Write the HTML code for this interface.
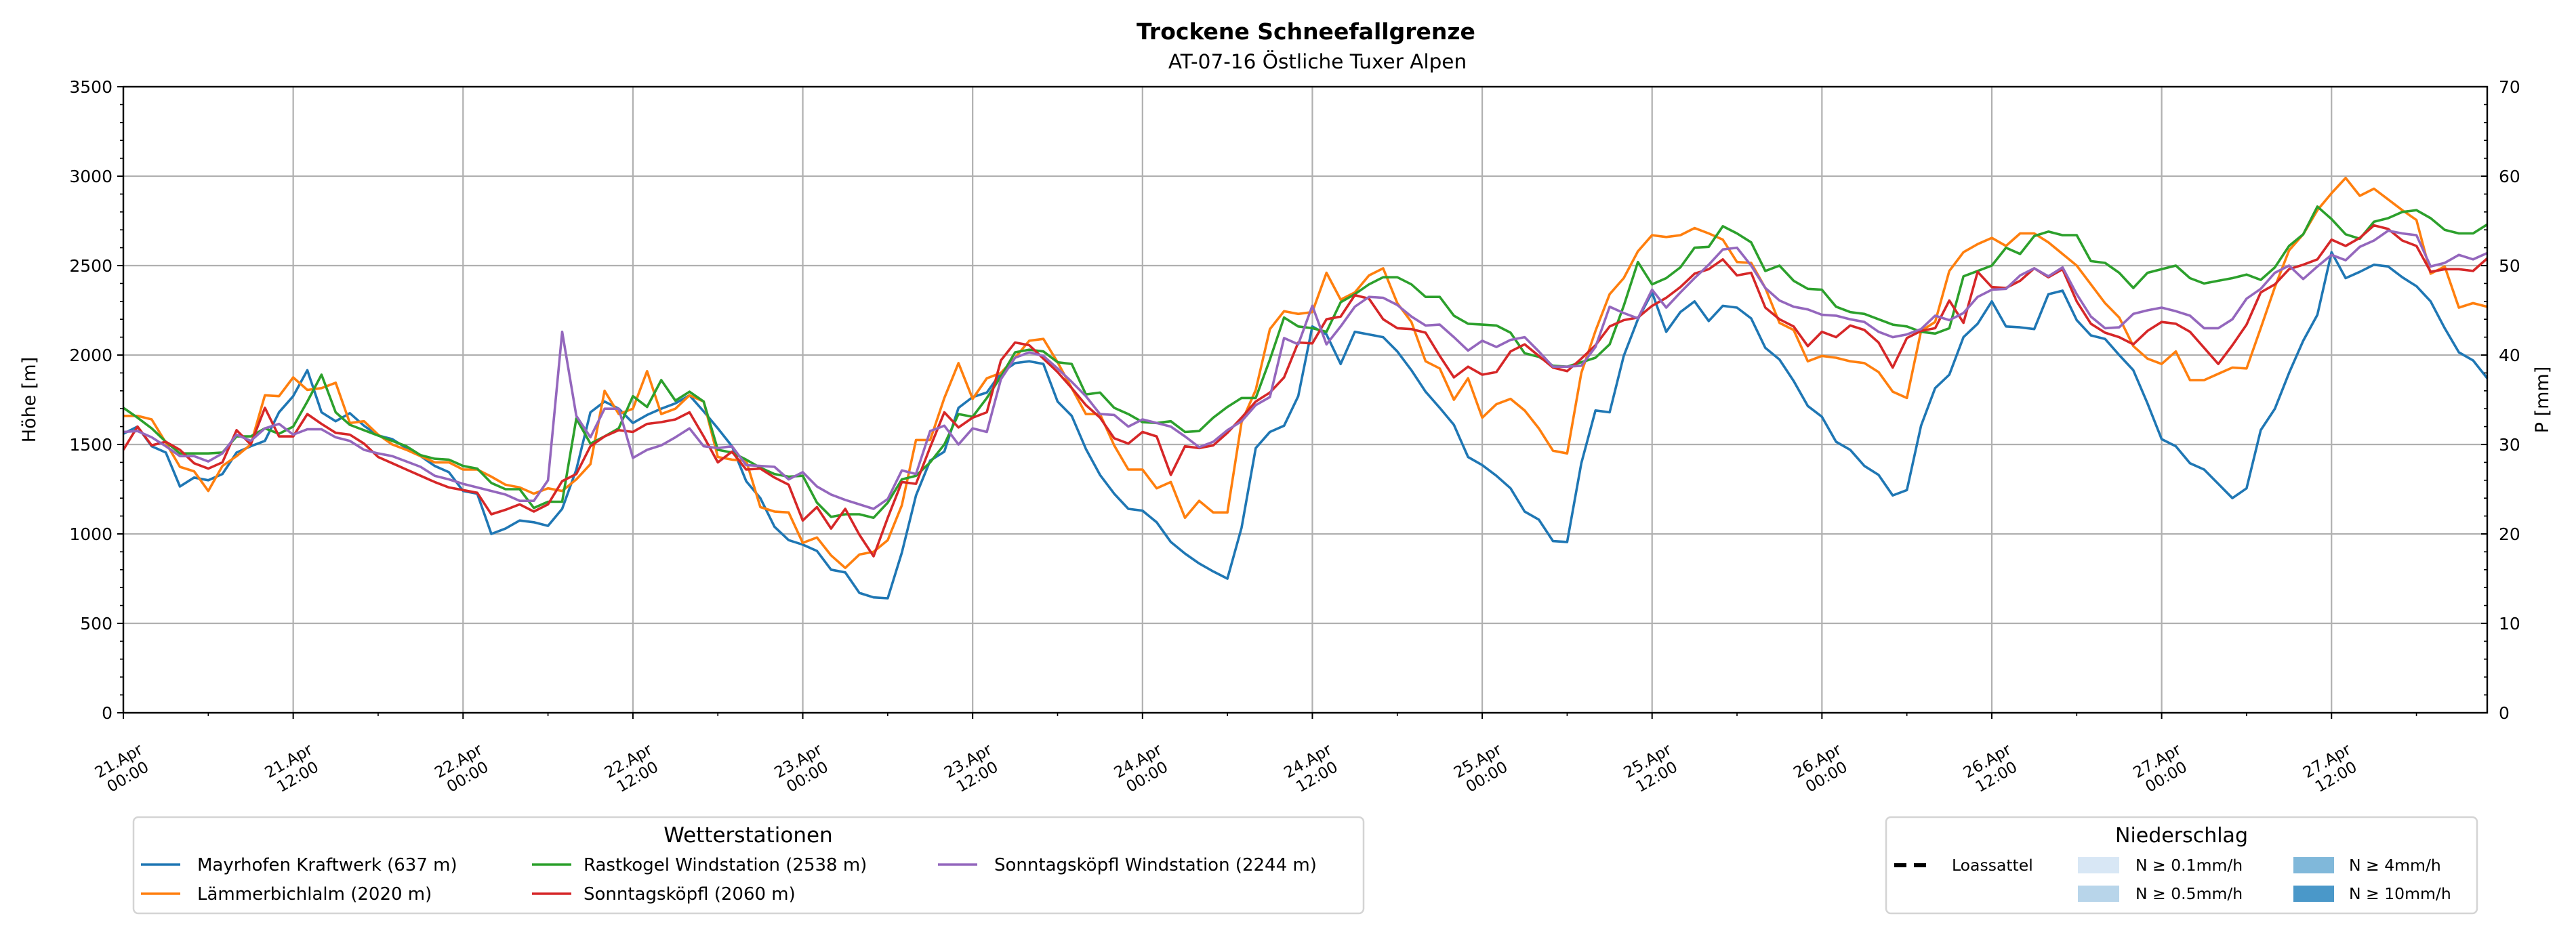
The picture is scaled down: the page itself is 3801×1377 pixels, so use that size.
<!DOCTYPE html>
<html><head><meta charset="utf-8"><style>
html,body{margin:0;padding:0;background:#fff;}
svg{display:block;font-family:"DejaVu Sans","Liberation Sans",sans-serif;}
</style></head><body>
<svg id="chart" width="3801" height="1377" viewBox="0 0 3801 1377" xmlns="http://www.w3.org/2000/svg">
<rect width="3801" height="1377" fill="#fff"/>
<text x="1927" y="58" text-anchor="middle" font-size="33" font-weight="bold">Trockene Schneefallgrenze</text>
<text x="1944" y="101" text-anchor="middle" font-size="29.5">AT-07-16 Östliche Tuxer Alpen</text>
<g id="grid"></g>
<g id="series"></g>
<g id="axes"></g>
<text transform="translate(52,590) rotate(-90)" text-anchor="middle" font-size="27">Höhe [m]</text>
<text transform="translate(3760,590) rotate(-90)" text-anchor="middle" font-size="27">P [mm]</text>

<g>
<rect x="197" y="1206" width="1815" height="142" rx="7" fill="#fff" stroke="#d4d4d4" stroke-width="2.5"/>
<text x="1104" y="1243" text-anchor="middle" font-size="31">Wetterstationen</text>
<g><line x1="208" y1="1276" x2="266" y2="1276" stroke="#1f77b4" stroke-width="3.6"/><text x="291" y="1285" font-size="26">Mayrhofen Kraftwerk (637 m)</text></g>
<g><line x1="208" y1="1319" x2="266" y2="1319" stroke="#ff7f0e" stroke-width="3.6"/><text x="291" y="1328" font-size="26">Lämmerbichlalm (2020 m)</text></g>
<g><line x1="785" y1="1276" x2="843" y2="1276" stroke="#2ca02c" stroke-width="3.6"/><text x="861" y="1285" font-size="26">Rastkogel Windstation (2538 m)</text></g>
<g><line x1="785" y1="1319" x2="843" y2="1319" stroke="#d62728" stroke-width="3.6"/><text x="861" y="1328" font-size="26">Sonntagsköpfl (2060 m)</text></g>
<g><line x1="1384" y1="1276" x2="1442" y2="1276" stroke="#9467bd" stroke-width="3.6"/><text x="1467" y="1285" font-size="26">Sonntagsköpfl Windstation (2244 m)</text></g>
</g>

<g>
<rect x="2783" y="1206" width="872" height="142" rx="7" fill="#fff" stroke="#d4d4d4" stroke-width="2.5"/>
<text x="3219" y="1243" text-anchor="middle" font-size="30">Niederschlag</text>
<g><line x1="2795" y1="1277" x2="2842" y2="1277" stroke="#000" stroke-width="6" stroke-dasharray="18,11"/><text x="2880" y="1285" font-size="23.5">Loassattel</text></g>
<g><rect x="3066" y="1265" width="61" height="24" fill="#d8e7f5"/><text x="3151" y="1285" font-size="23.5">N ≥ 0.1mm/h</text></g>
<g><rect x="3066" y="1307" width="61" height="24" fill="#b8d5ea"/><text x="3151" y="1327" font-size="23.5">N ≥ 0.5mm/h</text></g>
<g><rect x="3384" y="1265" width="60" height="24" fill="#80b8da"/><text x="3466" y="1285" font-size="23.5">N ≥ 4mm/h</text></g>
<g><rect x="3384" y="1307" width="60" height="24" fill="#4a98c9"/><text x="3466" y="1327" font-size="23.5">N ≥ 10mm/h</text></g>
</g>
</svg>
<script>
const xTickLabels = ["21.Apr|00:00","21.Apr|12:00","22.Apr|00:00","22.Apr|12:00","23.Apr|00:00","23.Apr|12:00","24.Apr|00:00","24.Apr|12:00","25.Apr|00:00","25.Apr|12:00","26.Apr|00:00","26.Apr|12:00","27.Apr|00:00","27.Apr|12:00"];
const yTicks = [0,500,1000,1500,2000,2500,3000,3500];
const y2Ticks = [0,10,20,30,40,50,60,70];
const mayrhofen = [1560,1600,1490,1455,1265,1315,1300,1335,1455,1490,1520,1680,1770,1915,1680,1630,1675,1605,1550,1530,1480,1435,1380,1345,1240,1225,1000,1030,1075,1065,1045,1140,1360,1680,1740,1700,1620,1665,1700,1730,1775,1685,1590,
1490,1295,1200,1040,965,940,905,800,785,670,645,640,895,1215,1410,1460,1705,1765,1790,1900,1955,1965,1950,1740,1660,1475,1330,1225,1140,1130,1065,955,890,835,790,750,1035,1480,1570,1605,1770,
2160,2115,1950,2130,2115,2100,2020,1915,1795,1705,1610,1430,1385,1325,1255,1125,1080,960,955,1395,1690,1680,1995,2200,2350,2130,2240,2300,2190,2275,2265,2205,2040,1975,1855,1715,1655,1515,1470,1380,1330,1215,
1245,1605,1815,1890,2100,2175,2300,2160,2155,2145,2340,2360,2195,2110,2090,2000,1915,1730,1530,1490,1395,1360,1280,1200,1255,1580,1700,1900,2080,2225,2575,2430,2465,2505,2495,2435,2385,2300,2150,2015,1970,1870];
const laemmerbichlalm = [1660,1660,1640,1510,1375,1350,1240,1380,1435,1500,1775,1770,1875,1805,1815,1845,1620,1630,1555,1500,1470,1435,1400,1400,1360,1360,1320,1275,1260,1225,1255,1240,1305,1390,1800,1670,1700,1910,1670,1700,1775,1740,1430,
1415,1410,1150,1125,1120,950,980,880,810,885,900,965,1160,1525,1525,1760,1955,1755,1870,1900,1985,2080,2090,1960,1815,1670,1670,1495,1360,1360,1255,1290,1090,1185,1120,1120,1625,1805,2145,2245,2230,
2240,2460,2310,2350,2445,2485,2290,2185,1965,1925,1750,1870,1650,1725,1755,1690,1590,1465,1450,1900,2135,2340,2430,2580,2670,2660,2670,2710,2680,2645,2520,2515,2375,2180,2140,1965,1995,1985,1965,1955,1905,1795,
1760,2135,2185,2470,2575,2620,2655,2610,2680,2680,2630,2565,2500,2395,2290,2210,2050,1980,1950,2020,1860,1860,1895,1930,1925,2150,2380,2585,2675,2810,2905,2990,2890,2930,2870,2810,2755,2455,2495,2265,2290,2270];
const rastkogel = [1705,1650,1590,1515,1450,1450,1450,1455,1545,1545,1590,1560,1600,1740,1890,1680,1610,1580,1550,1520,1490,1440,1420,1415,1380,1365,1285,1250,1250,1145,1180,1180,1645,1505,1545,1590,1770,1710,1860,1745,1795,1740,1470,
1455,1415,1370,1335,1320,1325,1175,1095,1110,1110,1090,1175,1305,1325,1400,1500,1670,1655,1760,1880,2015,2030,2020,1960,1950,1780,1790,1705,1670,1625,1620,1630,1570,1575,1650,1710,1760,1760,1975,2210,2160,
2150,2130,2295,2340,2395,2435,2435,2395,2325,2325,2220,2175,2170,2165,2125,2010,1990,1940,1935,1960,1985,2060,2275,2520,2395,2430,2490,2600,2605,2720,2680,2630,2470,2500,2415,2370,2365,2270,2240,2230,2200,2170,
2160,2130,2120,2150,2440,2470,2500,2600,2565,2665,2690,2670,2670,2525,2515,2460,2375,2460,2480,2500,2430,2400,2415,2430,2450,2420,2490,2610,2675,2830,2760,2675,2650,2745,2765,2800,2810,2765,2700,2680,2680,2730];
const sonntagskoepfl = [1470,1600,1495,1515,1470,1395,1365,1400,1580,1500,1705,1545,1545,1670,1615,1565,1555,1505,1430,1395,1360,1325,1290,1260,1245,1230,1110,1135,1165,1125,1165,1295,1335,1490,1545,1580,1570,1615,1625,1640,1680,1545,1400,
1460,1360,1365,1315,1275,1075,1150,1030,1140,995,875,1090,1290,1280,1485,1680,1595,1650,1680,1970,2070,2055,1980,1905,1815,1720,1650,1535,1505,1570,1545,1330,1490,1480,1495,1565,1650,1740,1790,1875,2070,
2065,2200,2215,2335,2315,2200,2150,2145,2125,1995,1875,1935,1890,1905,2020,2060,1995,1930,1910,1980,2055,2160,2195,2210,2275,2320,2380,2455,2480,2535,2445,2460,2265,2200,2160,2050,2130,2100,2165,2140,2070,1930,
2095,2135,2150,2305,2180,2465,2380,2375,2415,2485,2435,2480,2300,2175,2125,2100,2060,2135,2185,2175,2130,2040,1950,2055,2170,2350,2395,2480,2505,2535,2645,2610,2655,2725,2705,2640,2610,2465,2480,2480,2470,2540];
const sonntagskoepflWind = [1570,1575,1540,1490,1435,1435,1405,1450,1555,1520,1590,1615,1555,1585,1585,1540,1520,1470,1450,1435,1405,1375,1325,1305,1280,1260,1240,1220,1185,1185,1300,2130,1660,1540,1700,1700,1425,1470,1495,1540,1590,1490,1480,
1490,1385,1380,1375,1305,1345,1265,1220,1190,1165,1140,1195,1355,1335,1575,1605,1500,1590,1570,1865,1985,2015,1995,1925,1850,1770,1670,1665,1600,1640,1620,1600,1545,1485,1515,1580,1630,1720,1765,2095,2060,
2275,2060,2160,2270,2325,2320,2280,2215,2165,2170,2100,2025,2080,2045,2085,2100,2020,1935,1935,1940,2045,2270,2235,2205,2365,2265,2350,2430,2505,2590,2600,2500,2375,2305,2270,2255,2225,2220,2200,2185,2130,2100,
2115,2145,2220,2195,2235,2325,2365,2370,2445,2485,2440,2490,2340,2215,2150,2155,2230,2250,2265,2245,2220,2150,2150,2200,2315,2370,2460,2500,2425,2495,2560,2530,2605,2640,2695,2680,2670,2495,2515,2560,2535,2570];

const NS = "http://www.w3.org/2000/svg";
const L = 182, R = 3670, T = 128, B = 1052;
const HMAX = 167, VMAX = 3500, PMAX = 70;
function xS(h){ return L + h * (R - L) / HMAX; }
function yS(v){ return B - v * (B - T) / VMAX; }
function y2S(p){ return B - p * (B - T) / PMAX; }
function mk(tag, attrs, parent){ const e = document.createElementNS(NS, tag); for (const k in attrs) e.setAttribute(k, attrs[k]); parent.appendChild(e); return e; }
const grid = document.getElementById('grid'), axes = document.getElementById('axes'), series = document.getElementById('series');

yTicks.forEach(v => {
  const g = mk('line', {x1:L, x2:R, y1:yS(v), y2:yS(v), stroke:'#b0b0b0', 'stroke-width':2.2}, grid);
  
  
  mk('line', {x1:L-9, x2:L, y1:yS(v), y2:yS(v), stroke:'#000', 'stroke-width':2}, axes);
  const t = mk('text', {x:L-16, y:yS(v)+9, 'text-anchor':'end', 'font-size':25}, axes);
  t.textContent = v;
  
  
});
for (let v = 0; v <= VMAX; v += 100) {
  if (v % 500) mk('line', {x1:L-5, x2:L, y1:yS(v), y2:yS(v), stroke:'#000', 'stroke-width':1.6}, axes);
}
y2Ticks.forEach(p => {
  mk('line', {x1:R-9, x2:R, y1:y2S(p), y2:y2S(p), stroke:'#000', 'stroke-width':2}, axes);
  const t = mk('text', {x:R+17, y:y2S(p)+9, 'text-anchor':'start', 'font-size':25}, axes);
  t.textContent = p;
  
  
});
for (let p = 0; p <= PMAX; p += 2) {
  if (p % 10) mk('line', {x1:R-5, x2:R, y1:y2S(p), y2:y2S(p), stroke:'#000', 'stroke-width':1.6}, axes);
}
xTickLabels.forEach((lab, i) => {
  const h = i * 12, x = xS(h);
  const g = mk('line', {x1:x, x2:x, y1:T, y2:B, stroke:'#b0b0b0', 'stroke-width':2.2}, grid);
  
  
  mk('line', {x1:x, x2:x, y1:B, y2:B+9, stroke:'#000', 'stroke-width':2}, axes);
  const parts = lab.split('|');
  const t = mk('text', {transform:`translate(${x},${B+83}) rotate(-30)`, 'text-anchor':'middle', 'font-size':23}, axes);
  
  
  const a = mk('tspan', {x:0, y:-6}, t); a.textContent = parts[0];
  const b = mk('tspan', {x:0, y:21}, t); b.textContent = parts[1];
});
for (let h = 6; h <= HMAX; h += 12) {
  mk('line', {x1:xS(h), x2:xS(h), y1:B, y2:B+5, stroke:'#000', 'stroke-width':1.6}, axes);
}
const frame = mk('rect', {x:L, y:T, width:R-L, height:B-T, fill:'none', stroke:'#000', 'stroke-width':2.4}, axes);



const defs = [
  ['line-mayrhofen', mayrhofen, '#1f77b4'],
  ['line-laemmerbichlalm', laemmerbichlalm, '#ff7f0e'],
  ['line-rastkogel', rastkogel, '#2ca02c'],
  ['line-sonntagskoepfl', sonntagskoepfl, '#d62728'],
  ['line-sonntagskoepfl-wind', sonntagskoepflWind, '#9467bd']
];
defs.forEach(d => {
  const pts = d[1].map((v, h) => xS(h).toFixed(1) + ',' + yS(v).toFixed(1)).join(' ');
  const pl = mk('polyline', {points:pts, fill:'none', stroke:d[2], 'stroke-width':3.6, 'stroke-linejoin':'round'}, series);
  
  
});
</script>
</body></html>
